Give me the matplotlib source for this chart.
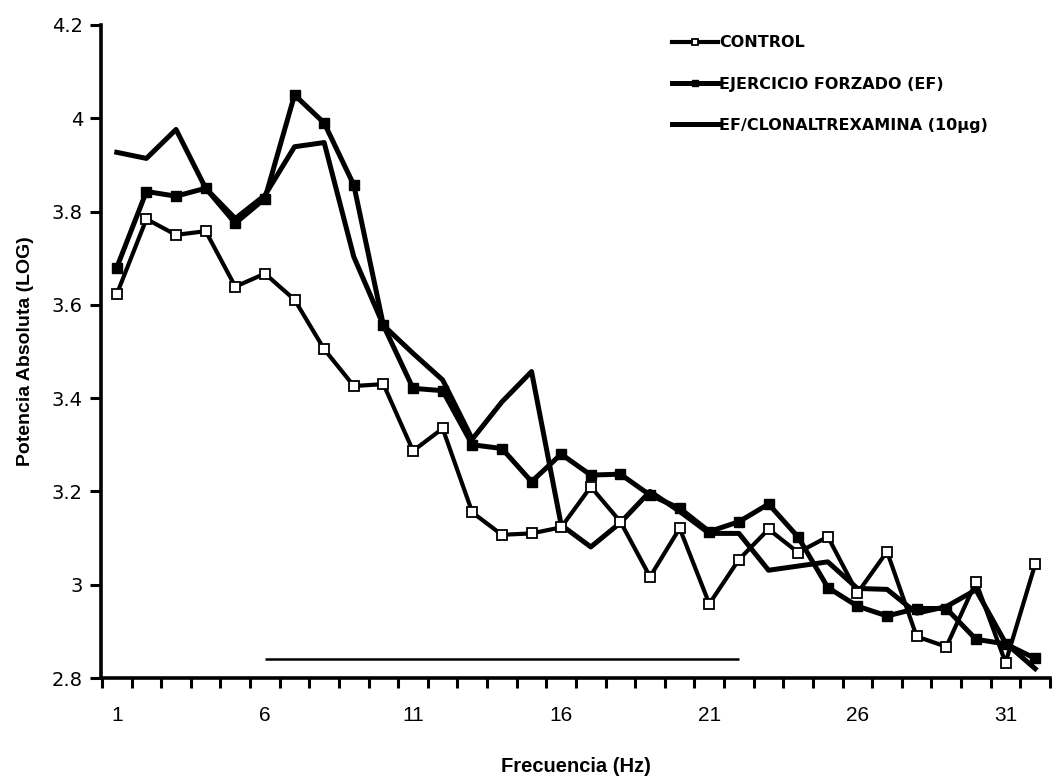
import matplotlib
matplotlib.use("Agg")
import matplotlib.pyplot as plt
import numpy as np

freq = list(range(1, 33))

control = [3.623, 3.784, 3.750, 3.758, 3.639, 3.667, 3.611, 3.505, 3.426, 3.430,
           3.287, 3.335, 3.155, 3.107, 3.110, 3.123, 3.210, 3.135, 3.017, 3.121,
           2.959, 3.054, 3.119, 3.069, 3.103, 2.982, 3.071, 2.889, 2.867, 3.006,
           2.833, 3.044]

ejercicio = [3.680, 3.843, 3.833, 3.850, 3.775, 3.828, 4.050, 3.990, 3.857, 3.556,
             3.421, 3.416, 3.300, 3.292, 3.221, 3.280, 3.235, 3.237, 3.192, 3.164,
             3.114, 3.135, 3.173, 3.102, 2.994, 2.954, 2.933, 2.949, 2.949, 2.883,
             2.873, 2.842]

clonal = [3.927, 3.914, 3.976, 3.850, 3.785, 3.835, 3.939, 3.948, 3.703, 3.556,
          3.496, 3.439, 3.312, 3.392, 3.457, 3.128, 3.081, 3.133, 3.200, 3.157,
          3.110, 3.110, 3.031, 3.040, 3.049, 2.992, 2.990, 2.939, 2.953, 2.989,
          2.875, 2.820]

labels = ["CONTROL", "EJERCICIO FORZADO (EF)", "EF/CLONALTREXAMINA (10µg)"]
sig_range = (6, 22)
sig_level = 2.84

yticks = [2.8, 3.0, 3.2, 3.4, 3.6, 3.8, 4.0, 4.2]
ytick_labels = ["2.8", "3", "3.2", "3.4", "3.6", "3.8", "4", "4.2"]
xtick_vals = [1, 6, 11, 16, 21, 26, 31]

plt.rcParams['font.family'] = ['DejaVu Sans']

fig = plt.figure(figsize=(10.56, 7.76), dpi=100)
ax = fig.add_axes([101/1056, 1 - 678/776, (1050 - 101)/1056, (678 - 25)/776])

l1, = ax.plot(freq, control, color='black', lw=3.0, marker='s', ms=6.5,
              mfc='white', mec='black', mew=1.3, label=labels[0], zorder=3)
l2, = ax.plot(freq, ejercicio, color='black', lw=3.6, marker='s', ms=6.5,
              mfc='black', mec='black', label=labels[1], zorder=4)
l3, = ax.plot(freq, clonal, color='black', lw=3.6, label=labels[2], zorder=2)

ax.hlines(sig_level, sig_range[0], sig_range[1], color='black', lw=1.8)

ax.set_xlim(0.467, 32.1)
ax.set_ylim(2.8, 4.2)

ax.set_yticks(yticks)
ax.set_yticklabels(ytick_labels)
ax.set_xticks(xtick_vals)
ax.set_xticklabels([str(v) for v in xtick_vals], family='Liberation Sans')
ax.set_xticks(np.arange(0.5, 32.6, 1.0), minor=True)

ax.tick_params(axis='y', direction='out', length=8, width=2.2, labelsize=14, pad=5)
ax.tick_params(axis='x', which='major', length=0, labelsize=15, pad=20)
ax.tick_params(axis='x', which='minor', direction='out', length=7, width=2.2)

for s in ['top', 'right']:
    ax.spines[s].set_visible(False)
for s in ['left', 'bottom']:
    ax.spines[s].set_linewidth(2.6)

ax.set_ylabel("Potencia Absoluta (LOG)", fontsize=14, fontweight='bold',
              family='Liberation Sans', labelpad=13)
ax.set_xlabel("Frecuencia (Hz)", fontsize=14.5, fontweight='bold',
              family='Liberation Sans', labelpad=23)

leg = ax.legend(handles=[l1, l2, l3], loc='upper left', bbox_to_anchor=(664/1056, 0.965),
                bbox_transform=fig.transFigure, frameon=False,
                prop={'family': 'DejaVu Sans', 'weight': 'bold', 'size': 11.5},
                handlelength=2.9, handletextpad=0.05, labelspacing=1.65, borderpad=0,
                markerscale=0.75)

fig.savefig("out.png", dpi=100)
